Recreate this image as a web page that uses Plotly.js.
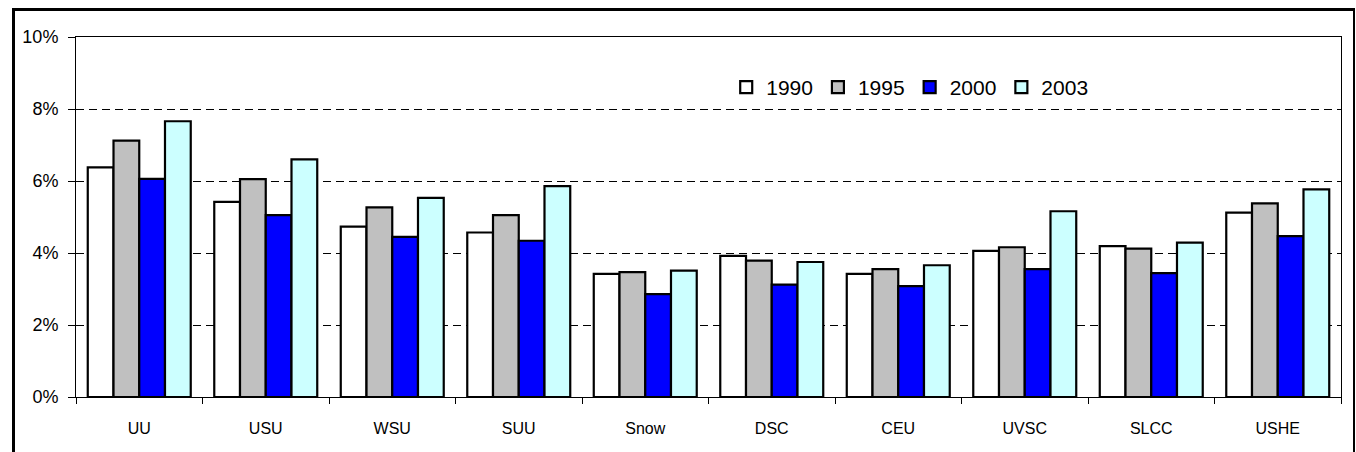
<!DOCTYPE html>
<html>
<head>
<meta charset="utf-8">
<script src="https://cdn.plot.ly/plotly-3.0.1.min.js"></script>
<style>
  html, body { margin: 0; padding: 0; background: #fff; }
  #wrap { position: relative; width: 1356px; height: 452px; overflow: hidden; }
  #chart { position: absolute; left: 0; top: 0; width: 1356px; height: 452px; }
  #frame { position: absolute; left: 12px; top: 8px; width: 1338px; height: 460px;
           border-left: 3px solid #000; border-top: 3px solid #000; border-right: 2px solid #000;
           pointer-events: none; }
</style>
</head>
<body>
<div id="wrap">
  <div id="chart"></div>
  <div id="frame"></div>
</div>
<script>
const categories = ["UU", "USU", "WSU", "SUU", "Snow", "DSC", "CEU", "UVSC", "SLCC", "USHE"];
const years = ["1990", "1995", "2000", "2003"];
const v1990 = [0.0638, 0.0542, 0.0473, 0.0457, 0.0342, 0.0392, 0.0342, 0.0406, 0.0419, 0.0512];
const v1995 = [0.0712, 0.0605, 0.0527, 0.0505, 0.0347, 0.0379, 0.0355, 0.0416, 0.0412, 0.0538];
const v2000 = [0.0606, 0.0505, 0.0445, 0.0434, 0.0286, 0.0312, 0.0308, 0.0355, 0.0344, 0.0447];
const v2003 = [0.0766, 0.0660, 0.0553, 0.0586, 0.0351, 0.0375, 0.0366, 0.0516, 0.0429, 0.0577];
const colors = ["#FFFFFF", "#C0C0C0", "#0000FF", "#CCFFFF"];
const series = [v1990, v1995, v2000, v2003];

const FONT = '"Liberation Sans", Arial, sans-serif';

const traces = series.map((vals, i) => ({
  type: 'bar',
  name: years[i],
  x: categories,
  y: vals,
  marker: { color: colors[i], line: { color: '#000', width: 2.2 } },
  hoverinfo: 'x+y+name'
}));

const layout = {
  width: 1356, height: 452,
  margin: { l: 76, r: 15, t: 37, b: 55 },
  paper_bgcolor: '#fff', plot_bgcolor: '#fff',
  barmode: 'group', bargap: 0.186, bargroupgap: 0,
  font: { family: FONT, color: '#000', size: 16 },
  showlegend: true,
  legend: {
    orientation: 'h', x: 0.514, xanchor: 'left', y: 0.86, yanchor: 'middle',
    bgcolor: '#fff', borderwidth: 0,
    font: { family: FONT, size: 21, color: '#000' },
    itemwidth: 30, traceorder: 'normal'
  },
  xaxis: {
    type: 'category',
    showline: true, linecolor: '#000', linewidth: 1, mirror: true,
    ticks: 'outside', tickson: 'boundaries', ticklen: 6, tickcolor: '#000', tickwidth: 1,
    ticklabelstandoff: 17,
    tickfont: { family: FONT, size: 16, color: '#000' },
    showgrid: false, zeroline: false, fixedrange: true
  },
  yaxis: {
    range: [0, 0.1], tickvals: [0, 0.02, 0.04, 0.06, 0.08, 0.1], tickformat: '.0%',
    showline: true, linecolor: '#000', linewidth: 1, mirror: true,
    ticks: 'outside', ticklen: 7, tickcolor: '#000', tickwidth: 1,
    ticklabelstandoff: 6,
    tickfont: { family: FONT, size: 18, color: '#000' },
    showgrid: true, gridcolor: '#000', gridwidth: 1, griddash: '8px,5px',
    zeroline: false, fixedrange: true
  }
};

Plotly.newPlot('chart', traces, layout, { displayModeBar: false, staticPlot: true });
</script>
</body>
</html>
